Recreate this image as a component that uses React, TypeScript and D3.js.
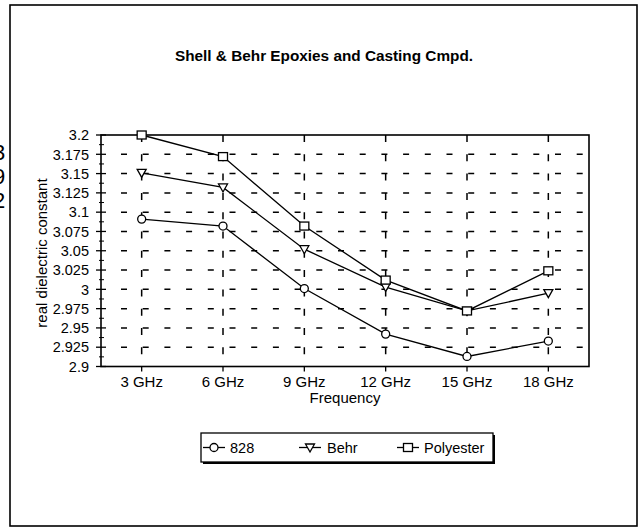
import React from "react";
import * as d3 from "d3";

const categories = ["3 GHz", "6 GHz", "9 GHz", "12 GHz", "15 GHz", "18 GHz"];
const yTickLabels = ["2.9", "2.925", "2.95", "2.975", "3", "3.025", "3.05", "3.075", "3.1", "3.125", "3.15", "3.175", "3.2"];
const seriesNames = ["828", "Behr", "Polyester"];
const values828 = [3.091, 3.082, 3.001, 2.942, 2.913, 2.933];
const valuesBehr = [3.151, 3.132, 3.052, 3.003, 2.972, 2.995];
const valuesPolyester = [3.2, 3.172, 3.082, 3.012, 2.972, 3.024];
const title = "Shell & Behr Epoxies and Casting Cmpd.";
const xTitle = "Frequency";
const yTitle = "real dielectric constant";
const edgeMarks = ["3", "9", "2"];

const W = 644;
const H = 529;
const FONT = "'Liberation Sans', Arial, Helvetica, sans-serif";

function Marker({ kind, x, y }: { kind: string; x: number; y: number }) {
  if (kind === "828") {
    return <circle cx={x} cy={y} r={4} fill="white" stroke="black" strokeWidth={1.3} />;
  }
  if (kind === "Behr") {
    const s = 4.5;
    return (
      <path
        d={`M${x - s},${y - 3.5}L${x + s},${y - 3.5}L${x},${y + 4.5}Z`}
        fill="white"
        stroke="black"
        strokeWidth={1.3}
      />
    );
  }
  return <rect x={x - 4.5} y={y - 4} width={9} height={8} fill="white" stroke="black" strokeWidth={1.3} />;
}

export default function App() {
  const left = 101;
  const right = 589;
  const top = 135;
  const bottom = 366.5;

  const x = d3.scalePoint<string>().domain(categories).range([left, right]).padding(0.5);
  const y = d3.scaleLinear().domain([2.9, 3.2]).range([bottom, top]);

  const yTicks = yTickLabels.map((t) => +t);
  const minorTicks = d3.range(0, yTicks.length - 1).map((i) => (yTicks[i] + yTicks[i + 1]) / 2);

  const series = [
    { name: seriesNames[0], values: values828 },
    { name: seriesNames[1], values: valuesBehr },
    { name: seriesNames[2], values: valuesPolyester },
  ];

  const line = d3
    .line<number>()
    .x((_, i) => x(categories[i]) as number)
    .y((d) => y(d));

  const legendItems = [
    { name: seriesNames[0], sx: 214, tx: 230 },
    { name: seriesNames[1], sx: 310, tx: 327 },
    { name: seriesNames[2], sx: 408, tx: 424 },
  ];
  const legendY = 447.5;

  return (
    <svg
      width={W}
      height={H}
      style={{ position: "absolute", left: 0, top: 0, background: "white" }}
      fontFamily={FONT}
    >
      <rect x={0} y={0} width={W} height={H} fill="white" />
      {/* scan artifacts at left edge */}
      <g fontSize={22} fill="black">
        {edgeMarks.map((m, i) => (
          <text key={"em" + i} x={-7} y={160 + i * 24}>
            {m}
          </text>
        ))}
      </g>
      {/* outer frame */}
      <rect x={10} y={5} width={627} height={521} fill="none" stroke="black" strokeWidth={1.6} />

      {/* title */}
      <text x={324} y={61} textAnchor="middle" fontSize={14.5} fontWeight="bold" textLength={298} lengthAdjust="spacingAndGlyphs">
        {title}
      </text>

      {/* horizontal gridlines */}
      {yTicks
        .filter((v) => v > 2.9 && v < 3.2)
        .map((v) => (
          <line
            key={"h" + v}
            x1={left + 20}
            x2={right}
            y1={y(v)}
            y2={y(v)}
            stroke="black"
            strokeWidth={1.5}
            strokeDasharray="6 15.7"
          />
        ))}
      {/* vertical gridlines */}
      {categories.map((c) => (
        <line
          key={"v" + c}
          x1={x(c)}
          x2={x(c)}
          y1={top}
          y2={bottom}
          stroke="black"
          strokeWidth={1.5}
          strokeDasharray="7 12.3"
        />
      ))}

      {/* plot frame */}
      <rect x={left} y={top} width={right - left} height={bottom - top} fill="none" stroke="black" strokeWidth={1.6} />

      {/* y axis ticks */}
      {yTicks.map((v) => (
        <line key={"yt" + v} x1={left - 5} x2={left + 5} y1={y(v)} y2={y(v)} stroke="black" strokeWidth={1.3} />
      ))}
      {minorTicks.map((v) => (
        <line key={"ym" + v} x1={left - 2} x2={left + 3} y1={y(v)} y2={y(v)} stroke="black" strokeWidth={1} />
      ))}
      {yTicks.map((v, i) => (
        <text key={"yl" + v} x={left - 12} y={y(v)} dy="0.36em" textAnchor="end" fontSize={14.5}>
          {yTickLabels[i]}
        </text>
      ))}

      {/* x axis ticks */}
      {categories.map((c) => (
        <g key={"xt" + c}>
          <line x1={x(c)} x2={x(c)} y1={bottom} y2={bottom + 5} stroke="black" strokeWidth={1.3} />
          <text x={x(c)} y={387} textAnchor="middle" fontSize={15}>
            {c}
          </text>
        </g>
      ))}
      <text x={(left + right) / 2} y={403} textAnchor="middle" fontSize={15}>
        {xTitle}
      </text>
      <text transform={`translate(47,253) rotate(-90)`} textAnchor="middle" fontSize={15}>
        {yTitle}
      </text>

      {/* series */}
      {series.map((s) => (
        <g key={s.name}>
          <path d={line(s.values) || ""} fill="none" stroke="black" strokeWidth={1.3} />
          {s.values.map((v, i) => (
            <Marker key={i} kind={s.name} x={x(categories[i]) as number} y={y(v)} />
          ))}
        </g>
      ))}

      {/* legend */}
      <rect x={203} y={435} width={292} height={29} fill="black" />
      <rect x={201} y={433} width={292} height={29} fill="white" stroke="black" strokeWidth={1.3} />
      {legendItems.map((it) => (
        <g key={"lg" + it.name}>
          <line x1={it.sx - 11} x2={it.sx + 11} y1={legendY} y2={legendY} stroke="black" strokeWidth={1.3} />
          <Marker kind={it.name} x={it.sx} y={legendY} />
          <text x={it.tx} y={legendY} dy="0.36em" fontSize={14.5}>
            {it.name}
          </text>
        </g>
      ))}
    </svg>
  );
}
